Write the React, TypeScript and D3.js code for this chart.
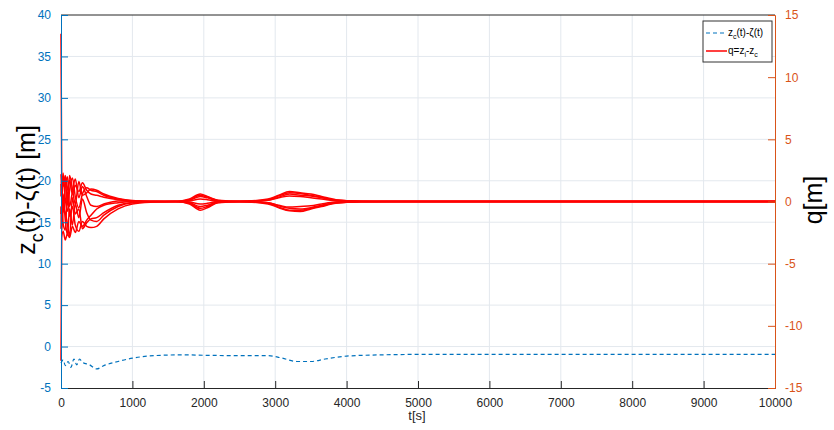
import { useEffect, useRef } from "react";
import * as d3 from "d3";

// time grid for the q series (seconds)
const qTimes = [0, 10, 30, 60, 90, 120, 160, 200, 250, 300, 360, 420, 500, 600, 800, 1000, 1300, 1600, 1800, 1950, 2050, 2200, 2500, 2900, 3050, 3200, 3350, 3500, 3650, 3850, 4200, 4600, 10000];

// q = z_i - z_c, one array per body [m]
const q1 = [13.5, 2.0, 1.2, 2.1, 0.9, 1.7, 0.6, 1.3, 0.8, 1.5, 0.9, 0.6, 0.5, 0.35, 0.15, 0.05, 0, 0, 0.2, 0.6, 0.4, 0.1, 0.02, 0.2, 0.5, 0.8, 0.7, 0.6, 0.4, 0.15, 0.03, 0, 0];
const q2 = [-12.8, -2.9, -2.4, -3.1, -2.6, -2.9, -2.0, -2.5, -1.6, -2.0, -1.5, -1.1, -0.6, -0.3, -0.1, 0, 0, 0, -0.2, -0.7, -0.5, -0.1, -0.02, -0.2, -0.5, -0.75, -0.8, -0.6, -0.4, -0.15, -0.03, 0, 0];
const q3 = [2.2, 1.0, 2.3, 0.2, -0.8, 0.9, 1.9, 0.4, -0.5, 0.6, 1.1, 0.9, 0.8, 0.5, 0.2, 0.05, 0, 0, 0.1, 0.4, 0.3, 0.05, 0, 0.1, 0.35, 0.6, 0.5, 0.45, 0.3, 0.1, 0.02, 0, 0];
const q4 = [-1.0, -0.2, -1.8, -2.3, 0.8, -1.2, -0.4, -1.9, -2.4, -1.6, -2.0, -2.1, -2.0, -1.4, -0.6, -0.2, -0.05, 0, -0.1, -0.4, -0.3, -0.05, 0, -0.1, -0.35, -0.55, -0.6, -0.5, -0.3, -0.1, -0.02, 0, 0];
const q5 = [0.4, 1.9, -0.9, 1.2, 2.0, -0.4, 0.8, 1.8, 0.3, 1.2, 0.4, -0.3, -0.4, -0.2, 0.05, 0.02, 0, 0, 0.05, 0.2, 0.15, 0, 0, 0.1, 0.3, 0.45, 0.4, 0.3, 0.2, 0.05, 0.01, 0, 0];
const q6 = [-2.2, -1.0, 0.6, -1.5, -2.7, -0.6, -1.9, -0.2, -1.3, 0.2, -0.9, -1.5, -1.6, -1.1, -0.4, -0.1, 0, 0, -0.05, -0.2, -0.15, 0, 0, -0.1, -0.3, -0.45, -0.4, -0.35, -0.2, -0.05, -0.01, 0, 0];
const q7 = [1.4, 0.3, 1.5, 1.9, -0.3, 2.1, 1.0, -0.2, 1.6, 0.5, 0.7, 1.0, 0.9, 0.6, 0.25, 0.08, 0.02, 0, 0.15, 0.5, 0.35, 0.08, 0.01, 0.15, 0.45, 0.7, 0.65, 0.5, 0.35, 0.1, 0.02, 0, 0];
const q8 = [-0.4, -2.4, -0.6, -0.9, -1.8, -2.8, 0.3, -1.0, -0.6, -2.2, -1.7, -1.4, -1.3, -0.9, -0.3, -0.08, -0.02, 0, -0.15, -0.55, -0.4, -0.08, -0.01, -0.15, -0.45, -0.7, -0.7, -0.55, -0.35, -0.1, -0.02, 0, 0];
const qSeries = [q1, q2, q3, q4, q5, q6, q7, q8];

// z_c(t) - zeta(t) [m]
const zTimes = [0, 30, 60, 100, 140, 180, 220, 260, 300, 400, 500, 600, 800, 1000, 1300, 1700, 2000, 2500, 2900, 3100, 3300, 3500, 3700, 4000, 4500, 5000, 10000];
const zValues = [-2.0, -1.6, -2.3, -1.8, -2.5, -1.5, -2.2, -1.5, -1.9, -2.2, -2.7, -2.3, -1.8, -1.4, -1.1, -1.0, -1.05, -1.1, -1.1, -1.4, -1.8, -1.8, -1.5, -1.15, -1.0, -0.95, -0.95];

const xTicks = [0, 1000, 2000, 3000, 4000, 5000, 6000, 7000, 8000, 9000, 10000];
const leftTicks = [-5, 0, 5, 10, 15, 20, 25, 30, 35, 40];
const rightTicks = [-15, -10, -5, 0, 5, 10, 15];

const BLUE = "#0072BD";
const ORANGE = "#D95319";
const DARK = "#262626";
const FONT = "Liberation Sans, Arial, sans-serif";

export default function App() {
    const ref = useRef<SVGSVGElement>(null);

    useEffect(() => {
        document.body.style.margin = "0";
        const svg = d3.select(ref.current);
        svg.selectAll("*").remove();

        const margin = { top: 15, right: 59, bottom: 42, left: 61 };
        const W = 834, H = 430;
        const w = W - margin.left - margin.right;
        const h = H - margin.top - margin.bottom;

        const g = svg.append("g").attr("transform", `translate(${margin.left},${margin.top})`);

        const x = d3.scaleLinear().domain([0, 10000]).range([0, w]);
        const yL = d3.scaleLinear().domain([-5, 40]).range([h, 0]);
        const yR = d3.scaleLinear().domain([-15, 15]).range([h, 0]);
        const fmt = (d: any) => String(d);

        g.append("rect").attr("width", w).attr("height", h).attr("fill", "#fff");

        // grid
        g.selectAll(".vg").data(xTicks.slice(1, -1)).enter().append("line")
            .attr("x1", d => x(d)).attr("x2", d => x(d))
            .attr("y1", 0).attr("y2", h)
            .attr("stroke", "#e3e8ee").attr("stroke-width", 1);
        g.selectAll(".hg").data(leftTicks.slice(1, -1)).enter().append("line")
            .attr("x1", 0).attr("x2", w)
            .attr("y1", d => yL(d)).attr("y2", d => yL(d))
            .attr("stroke", "#e3e8ee").attr("stroke-width", 1);

        // blue dashed line
        const zData = zTimes.map((t, i) => ({ t, v: zValues[i] }));
        const zLine = d3.line<{ t: number; v: number }>()
            .x(d => x(d.t)).y(d => yL(d.v))
            .curve(d3.curveMonotoneX);
        g.append("path").datum(zData)
            .attr("d", zLine)
            .attr("fill", "none")
            .attr("stroke", BLUE)
            .attr("stroke-width", 1.2)
            .attr("stroke-dasharray", "4,3");

        // red q lines
        const qLine = d3.line<number>()
            .x((d, i) => x(qTimes[i])).y(d => yR(d))
            .curve(d3.curveMonotoneX);
        qSeries.forEach(s => {
            g.append("path").datum(s)
                .attr("d", qLine)
                .attr("fill", "none")
                .attr("stroke", "#ff0000")
                .attr("stroke-width", 1.5);
        });

        // axes
        const xAxis = d3.axisBottom(x).tickValues(xTicks).tickFormat(fmt).tickSize(-7).tickPadding(10);
        const gx = g.append("g").attr("transform", `translate(0,${h})`).call(xAxis);
        gx.selectAll("line").attr("stroke", DARK);
        gx.select(".domain").attr("stroke", DARK);
        gx.selectAll("text").attr("fill", DARK).style("font-size", "12px").style("font-family", FONT);

        g.append("line").attr("x1", 0).attr("x2", w).attr("y1", 0).attr("y2", 0)
            .attr("stroke", DARK);

        const yAxisL = d3.axisLeft(yL).tickValues(leftTicks).tickFormat(fmt).tickSize(-7).tickPadding(10);
        const gl = g.append("g").call(yAxisL);
        gl.selectAll("line").attr("stroke", BLUE);
        gl.select(".domain").attr("stroke", BLUE);
        gl.selectAll("text").attr("fill", BLUE).style("font-size", "12px").style("font-family", FONT);

        const yAxisR = d3.axisRight(yR).tickValues(rightTicks).tickFormat(fmt).tickSize(-7).tickPadding(10);
        const gr = g.append("g").attr("transform", `translate(${w},0)`).call(yAxisR);
        gr.selectAll("line").attr("stroke", ORANGE);
        gr.select(".domain").attr("stroke", ORANGE);
        gr.selectAll("text").attr("fill", ORANGE).style("font-size", "12px").style("font-family", FONT);

        // axis labels
        svg.append("text")
            .attr("x", 417).attr("y", 420)
            .attr("text-anchor", "middle")
            .attr("fill", DARK)
            .style("font-size", "13px").style("font-family", FONT)
            .text("t[s]");

        const lt = svg.append("text")
            .attr("transform", "translate(35,190) rotate(-90)")
            .attr("text-anchor", "middle")
            .attr("fill", "#000")
            .style("font-size", "25px").style("font-family", FONT);
        lt.append("tspan").text("z");
        lt.append("tspan").attr("dy", 8).style("font-size", "18px").text("c");
        lt.append("tspan").attr("dy", -8).text("(t)-ζ(t) [m]");

        svg.append("text")
            .attr("transform", "translate(822,200) rotate(-90)")
            .attr("text-anchor", "middle")
            .attr("fill", "#000")
            .style("font-size", "25px").style("font-family", FONT)
            .text("q[m]");

        // legend
        const lg = svg.append("g").attr("transform", "translate(703,21)");
        lg.append("rect").attr("width", 69).attr("height", 41)
            .attr("fill", "#fff").attr("stroke", "#333").attr("stroke-width", 1);
        lg.append("line").attr("x1", 3).attr("x2", 24).attr("y1", 12).attr("y2", 12)
            .attr("stroke", BLUE).attr("stroke-width", 1.2).attr("stroke-dasharray", "4,3");
        lg.append("line").attr("x1", 3).attr("x2", 24).attr("y1", 30).attr("y2", 30)
            .attr("stroke", "#ff0000").attr("stroke-width", 1.5);

        const t1 = lg.append("text").attr("x", 25).attr("y", 15)
            .attr("fill", "#000").style("font-size", "10px").style("font-family", FONT);
        t1.append("tspan").text("z");
        t1.append("tspan").attr("dy", 3).style("font-size", "7px").text("c");
        t1.append("tspan").attr("dy", -3).text("(t)-ζ(t)");

        const t2 = lg.append("text").attr("x", 25).attr("y", 33)
            .attr("fill", "#000").style("font-size", "10px").style("font-family", FONT);
        t2.append("tspan").text("q=z");
        t2.append("tspan").attr("dy", 3).style("font-size", "7px").text("i");
        t2.append("tspan").attr("dy", -3).text("-z");
        t2.append("tspan").attr("dy", 3).style("font-size", "7px").text("c");
    }, []);

    return <svg ref={ref} width={834} height={430} style={{ display: "block", background: "#fff" }}></svg>;
}
